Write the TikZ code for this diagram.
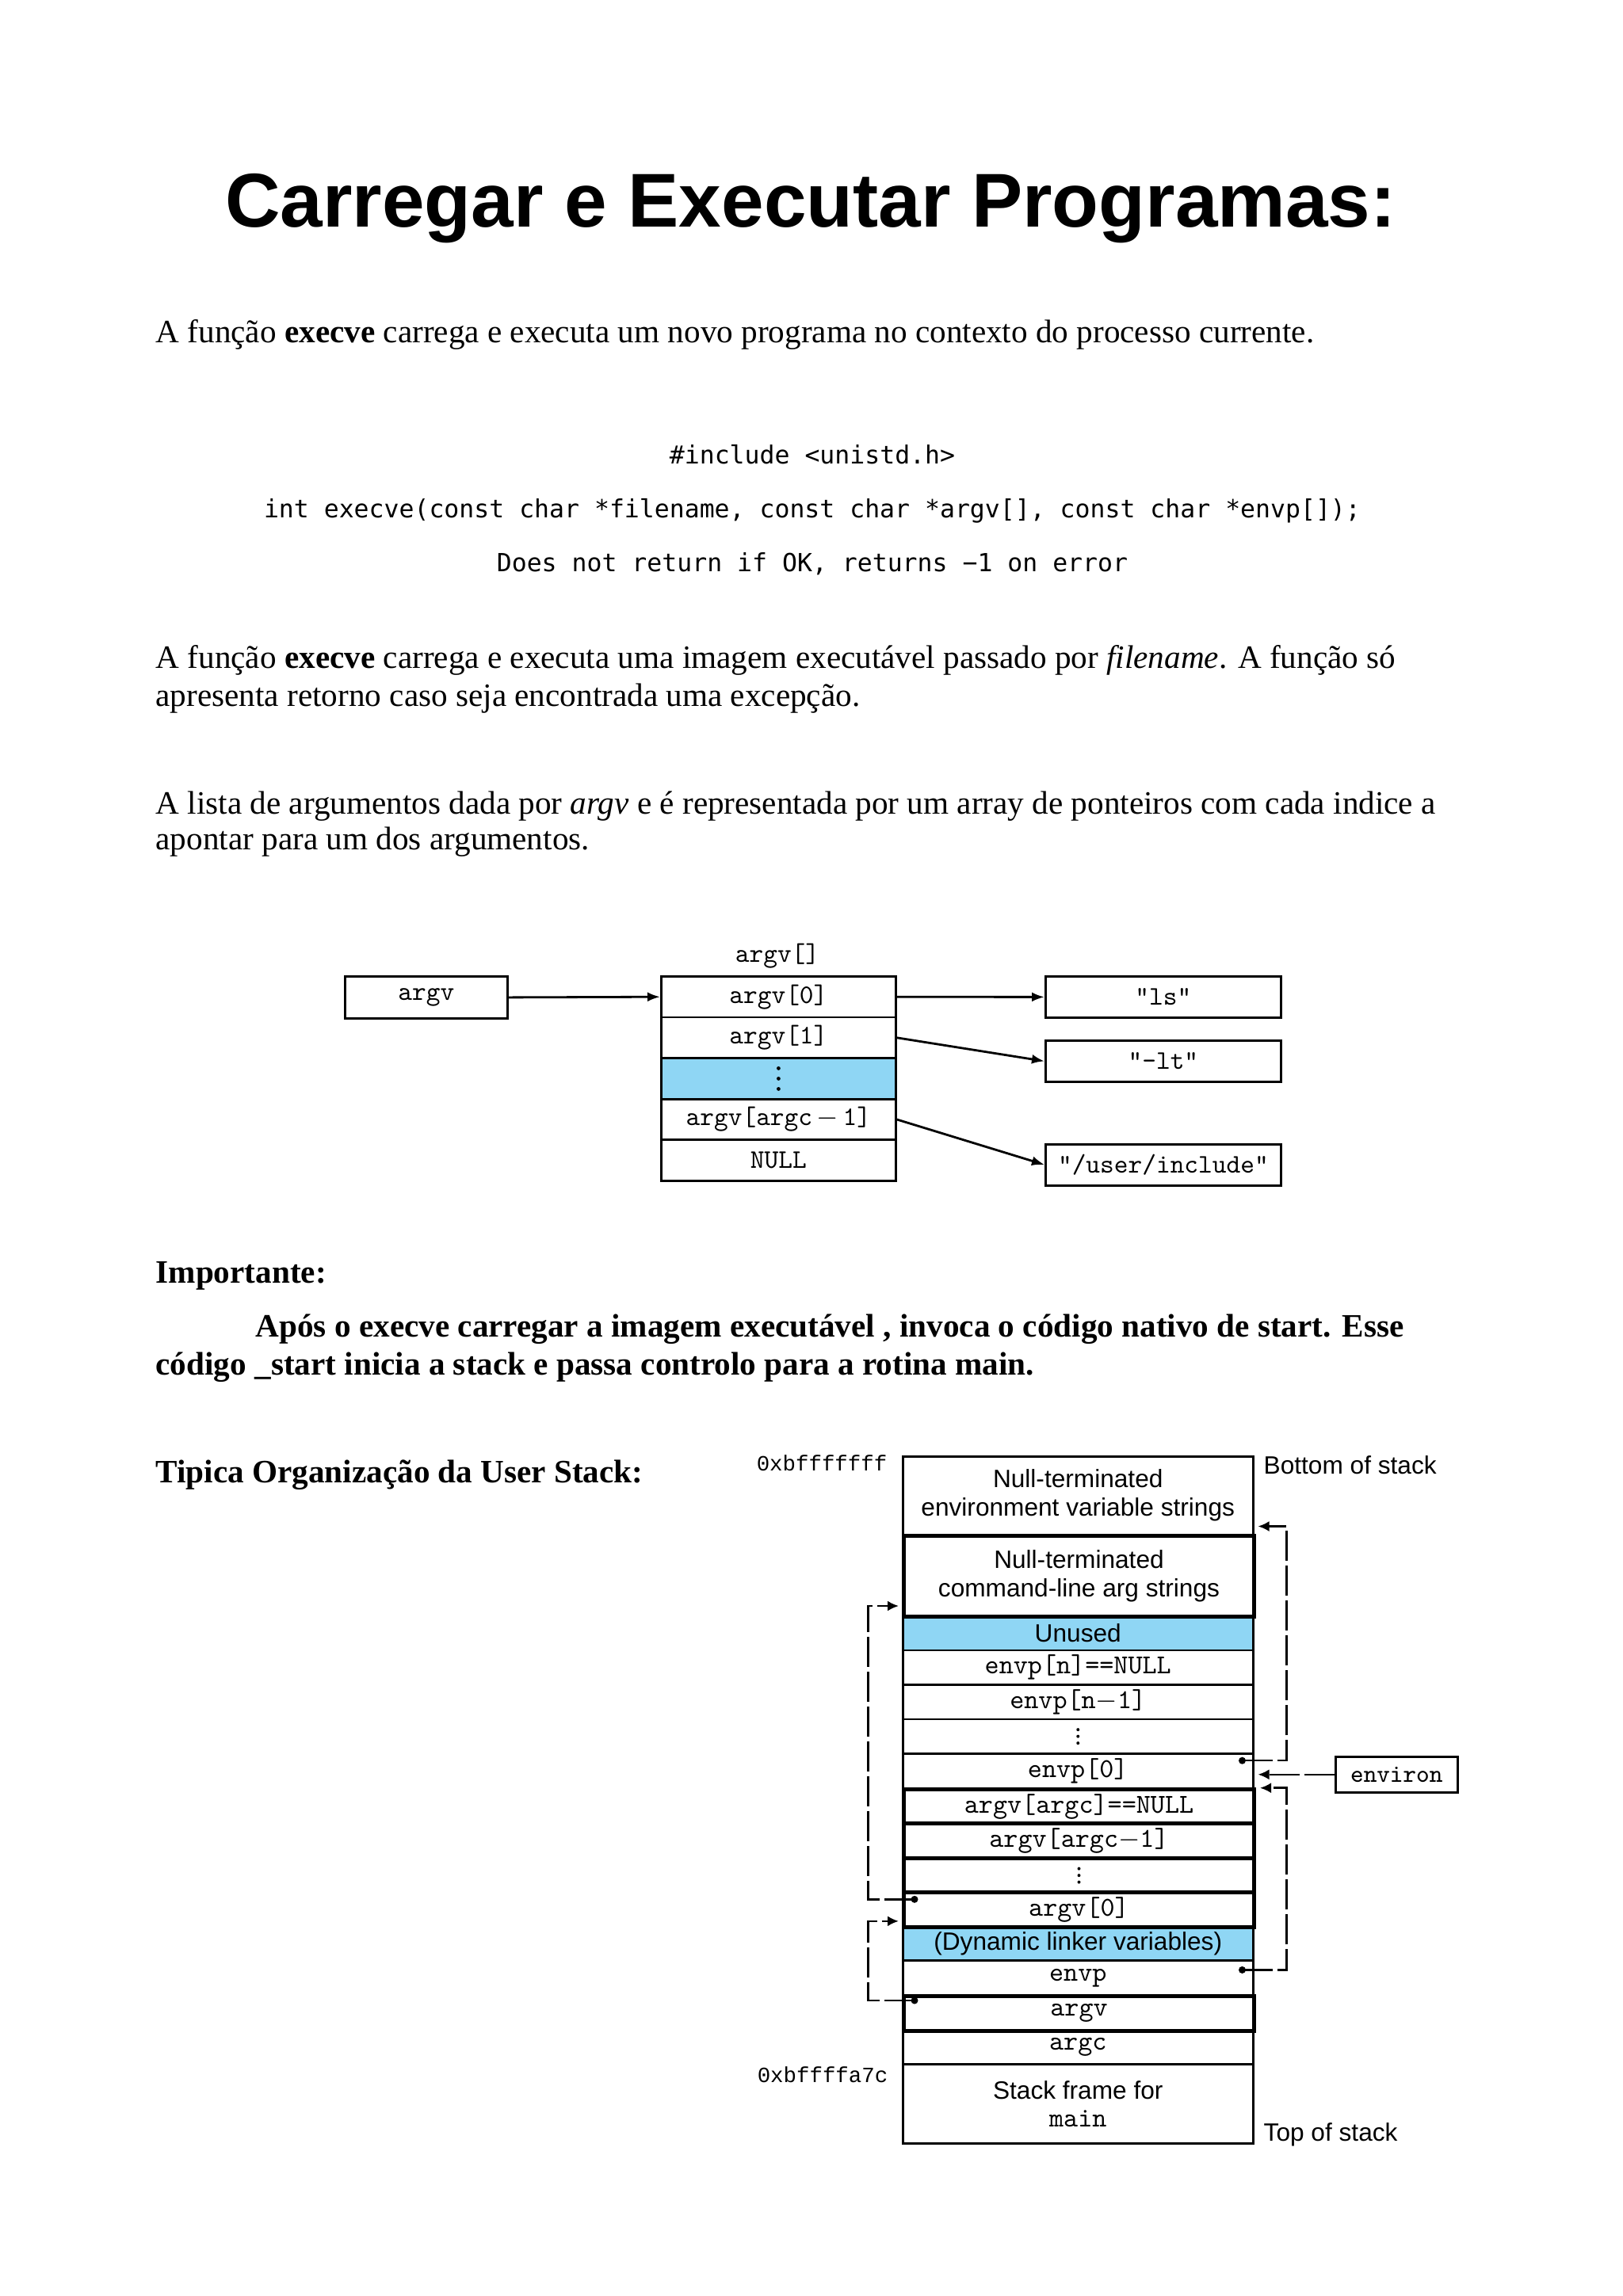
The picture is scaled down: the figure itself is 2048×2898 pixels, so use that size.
\documentclass[tikz,border=0pt]{standalone}
\usepackage{fontspec}
\setmainfont{Liberation Serif}
\newfontfamily\arialf{Liberation Sans}
\newfontfamily\dvmono{DejaVu Sans Mono}
\newfontfamily\courf{Liberation Mono}
\usetikzlibrary{arrows.meta,calc}
\definecolor{cellblue}{RGB}{143,214,244}
\begin{document}
\begin{tikzpicture}[x=0.1mm,y=-0.1mm,
  body/.style={anchor=base west,inner sep=0,font=\fontsize{11.72}{14}\selectfont},
  bodyb/.style={body,font=\bfseries\fontsize{11.72}{14}\selectfont},
  code/.style={anchor=base,inner sep=0,font=\dvmono\fontsize{8.96}{11}\selectfont},
  abox/.style={draw,line width=0.28mm,inner sep=0,anchor=north west,minimum width=29.6mm,minimum height=5.16mm,font=\ttfamily\fontsize{9.6}{11}\selectfont},
  sbox/.style={draw,line width=0.28mm,inner sep=0,anchor=north west,minimum width=29.7mm,minimum height=5.2mm,font=\ttfamily\fontsize{9.6}{11}\selectfont},
  cell/.style={draw,line width=0.25mm,inner sep=0,anchor=north west,minimum width=44.2mm,minimum height=4.354mm,font=\ttfamily\fontsize{9.8}{11}\selectfont},
  tcell/.style={cell,line width=0.5mm},
  sans/.style={font=\arialf\fontsize{9}{10.25}\selectfont,align=center},
  ar/.style={line width=0.28mm,-{Latex[length=1.6mm,width=1.2mm]}},
  ptr/.style={line width=0.25mm,dash pattern=on 3.8mm off 0.6mm,-{Latex[length=1.4mm,width=1.3mm]}},
  dotc/.style={fill=black}
]
\useasboundingbox (0,0) rectangle (2048,2898);
\fill[white] (0,0) rectangle (2048,2898);

% Title
\node[anchor=base,inner sep=0,font=\arialf\bfseries\fontsize{27.4}{32}\selectfont] (title) at (1023,286) {Carregar e Executar Programas:};

% Body text
\node[body] (t1) at (196,432) {A função \textbf{execve} carrega e executa um novo programa no contexto do processo currente.};
\node[code] (c1) at (1025,585) {\#include <unistd.h>};
\node[code] (c2) at (1025,653) {int execve(const char *filename, const char *argv[], const char *envp[]);};
\node[code] (c3) at (1025,721) {Does not return if OK, returns −1 on error};
\node[body] (p2a) at (196,843) {A função \textbf{execve} carrega e executa uma imagem executável passado por \textit{filename}. A função só};
\node[body] (p2b) at (196,891) {apresenta retorno caso seja encontrada uma excepção.};
\node[body] (p3a) at (196,1027) {A lista de argumentos dada por \textit{argv} e é representada por um array de ponteiros com cada indice a};
\node[body] (p3b) at (196,1072) {apontar para um dos argumentos.};
\node[bodyb] (imp) at (196,1619) {Importante:};
\node[bodyb] (apos) at (322,1687) {Após o execve carregar a imagem executável , invoca o código nativo de start. Esse};
\node[bodyb] (cod) at (196,1735) {código \_start inicia a stack e passa controlo para a rotina main.};
\node[bodyb] (tip) at (196,1871) {Tipica Organização da User Stack:};

% argv diagram
\node[inner sep=0,font=\ttfamily\fontsize{9.6}{11}\selectfont] (arrlbl) at (981,1207) {argv[]};
\node[abox,minimum width=20.5mm,minimum height=5.3mm] (argvbox) at (434,1231) {argv};
\node[abox] (a0) at (833,1231) {argv[0]};
\node[abox] (a1) at (833,1282.6) {argv[1]};
\node[abox,fill=cellblue] (a2) at (833,1334.2) {};
\node[abox] (a3) at (833,1385.8) {argv[argc\,$-$\,1]};
\node[abox] (a4) at (833,1437.4) {NULL};
\node[sbox] (ls) at (1318,1231) {"ls"};
\node[sbox] (lt) at (1318,1312) {"-lt"};
\node[sbox] (inc) at (1318,1442.7) {"/user/include"};
\foreach \d in {-13,0,13} \fill ($(a2.center)+(0,\d)$) circle (0.24mm);
\draw[ar] (argvbox.east) -- (a0.west);
\draw[ar] (a0.east) -- (ls.west);
\draw[ar] (a1.east) -- (lt.west);
\draw[ar] (a3.east) -- (inc.west);

% Stack diagram
\node[cell,minimum height=9.9mm,sans] (envs) at (1138,1837) {Null-terminated\\environment variable strings};
\node[cell,fill=cellblue,sans] (unused) at (1138,2038) {Unused};
\node[cell] (envpn) at (1138,2081.5) {envp[n]==NULL};
\node[cell] (envpn1) at (1138,2125.1) {envp[n$-$1]};
\node[cell] (edots) at (1138,2168.6) {};
\node[cell] (envp0) at (1138,2212.2) {envp[0]};
\node[cell,fill=cellblue,sans] (dyn) at (1138,2429.9) {(Dynamic linker variables)};
\node[cell] (envpc) at (1138,2473.4) {envp};
\node[cell] (argcc) at (1138,2560.5) {argc};
\node[cell,minimum height=10mm,align=center] (frame) at (1138,2604) {{\arialf\fontsize{9}{10}\selectfont Stack frame for}\\[-1pt]main};
% thick cells
\node[tcell,minimum height=10.2mm,sans] (cmd) at (1138,1936) {Null-terminated\\command-line arg strings};
\node[tcell] (argvnull) at (1138,2255.7) {argv[argc]==NULL};
\node[tcell] (argvc1) at (1138,2299.2) {argv[argc$-$1]};
\node[tcell] (adots) at (1138,2342.8) {};
\node[tcell] (argvz) at (1138,2386.3) {argv[0]};
\node[tcell] (argvc) at (1138,2517) {argv};
\foreach \d in {-8.5,0,8.5} {
  \fill ($(edots.center)+(0,\d)$) circle (0.2mm);
  \fill ($(adots.center)+(0,\d)$) circle (0.2mm);
}

% labels
\node[anchor=base east,inner sep=0,font=\courf\fontsize{7.8}{9}\selectfont] (addrtop) at (1120,1856) {0xbfffffff};
\node[anchor=base east,inner sep=0,font=\courf\fontsize{7.8}{9}\selectfont] (addrbot) at (1121,2628) {0xbffffa7c};
\node[anchor=base west,inner sep=0,font=\arialf\fontsize{9}{10}\selectfont] (bos) at (1594,1860) {Bottom of stack};
\node[anchor=base west,inner sep=0,font=\arialf\fontsize{9}{10}\selectfont] (tos) at (1594,2702) {Top of stack};
\node[draw,line width=0.25mm,inner sep=0,anchor=north west,minimum width=15.4mm,minimum height=4.5mm,font=\ttfamily\fontsize{9}{11}\selectfont] (environ) at (1684,2216) {environ};

% pointer coordinates
\coordinate (dA) at ($(envp0.north east)+(-15,10)$);
\coordinate (dB) at ($(envpc.north east)+(-15,13)$);
\coordinate (dC) at ($(argvz.north west)+(16,11)$);
\coordinate (dD) at ($(argvc.north west)+(16,8)$);
\coordinate (tA) at ($(envs.south east)+(5,-12)$);
\coordinate (tB) at ($(argvnull.north east)+(5,1)$);
\coordinate (tC) at ($(cmd.south west)+(-4,-16)$);
\coordinate (tD) at ($(argvz.south west)+(-4,-10)$);

\draw[ptr] (dA) -- ++(56,0) |- (tA);
\draw[ptr] (dB) -- ++(56,0) |- (tB);
\draw[ptr] (environ.west) -- (environ.west -| tA);
\draw[ptr] (dC) -- ++(-58.5,0) |- (tC);
\draw[ptr] (dD) -- ++(-58.5,0) |- (tD);
\fill[dotc] (dA) circle (0.45mm);
\fill[dotc] (dB) circle (0.45mm);
\fill[dotc] (dC) circle (0.45mm);
\fill[dotc] (dD) circle (0.45mm);
\end{tikzpicture}
\end{document}
